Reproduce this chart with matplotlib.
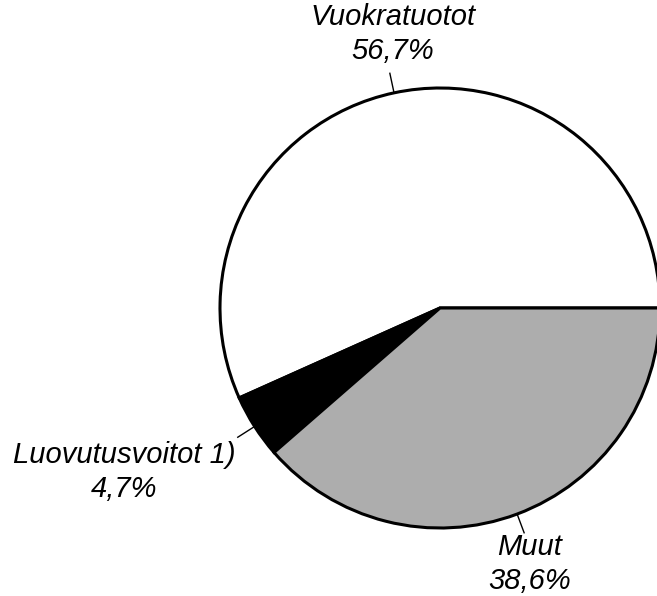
import numpy as np
import matplotlib.pyplot as plt

plt.rcParams['font.family'] = ['Liberation Sans', 'DejaVu Sans']

labels = ["Vuokratuotot", "Luovutusvoitot 1)", "Muut"]
shares = [56.7, 4.7, 38.6]
share_txt = ["56,7%", "4,7%", "38,6%"]
colors = ["white", "black", "#adadad"]

# where the labels sit (pixel coords, y from bottom)
label_pos = [(393, 562), (124, 124), (530, 32)]

fig = plt.figure(figsize=(6.57, 5.96), dpi=100)
ax = fig.add_axes([0, 0, 1, 1])

cx, cy, r = 440, 288, 220
wedges, _ = ax.pie(shares, colors=colors, startangle=0, counterclock=True,
                   center=(cx, cy), radius=r, frame=True,
                   wedgeprops=dict(edgecolor="black", linewidth=2.2))
ax.set_xlim(0, 657)
ax.set_ylim(0, 596)
ax.axis("off")

for w, lab, txt, (tx, ty) in zip(wedges, labels, share_txt, label_pos):
    ang = np.deg2rad((w.theta1 + w.theta2) / 2)
    x0, y0 = cx + r * np.cos(ang), cy + r * np.sin(ang)
    x1, y1 = cx + (r + 20) * np.cos(ang), cy + (r + 20) * np.sin(ang)
    ax.plot([x0, x1], [y0, y1], color="black", lw=1)
    ax.text(tx, ty, lab + "\n" + txt, ha="center", va="center", fontsize=21,
            style="italic", linespacing=1.25)

fig.savefig("out.png", dpi=100)
